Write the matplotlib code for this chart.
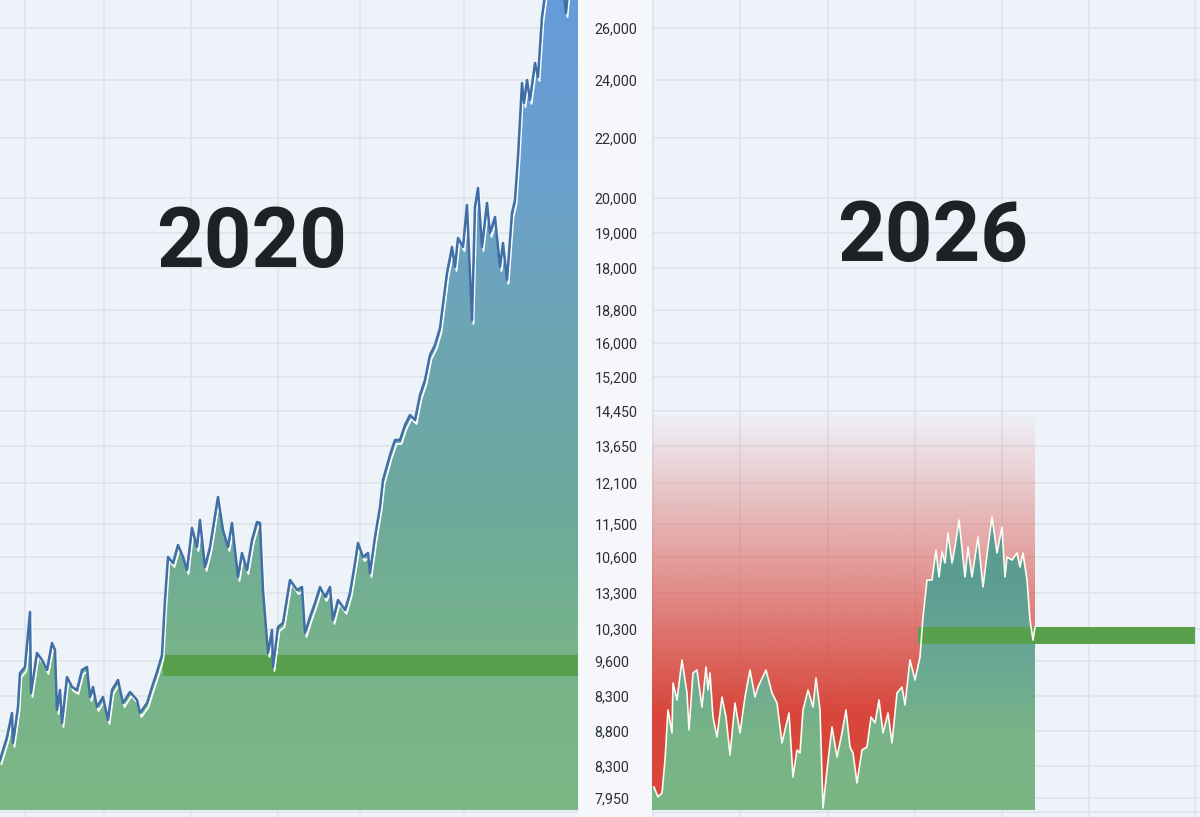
import numpy as np
import matplotlib
matplotlib.use('Agg')
import matplotlib.pyplot as plt
from matplotlib.colors import LinearSegmentedColormap, to_rgb

# price levels (chart units, 0 = baseline) for the 2020 run
DAYS_2020 = [0, 7, 12, 13, 18, 20, 25, 30, 31, 37, 42, 47, 52, 55, 57, 60, 62, 67, 72, 77,
             82, 87, 90, 93, 97, 103, 108, 112, 118, 123, 130, 137, 140, 147, 152, 157, 162, 165, 168, 173,
             178, 183, 187, 192, 197, 200, 205, 210, 218, 223, 228, 232, 238, 242, 247, 252, 257, 260, 263, 268,
             272, 273, 278, 283, 290, 297, 302, 305, 310, 315, 320, 325, 330, 333, 338, 345, 350, 355, 358, 363,
             368, 370, 375, 380, 383, 390, 395, 400, 405, 410, 415, 420, 425, 430, 435, 440, 447, 452, 455, 458,
             463, 467, 472, 475, 478, 482, 487, 490, 495, 500, 503, 507, 512, 515, 518, 522, 524, 527, 530, 535,
             538, 542, 545, 550, 560, 566, 570, 578]
LEVEL_2020 = [50, 73, 97, 67, 103, 137, 143, 198, 117, 157, 150, 140, 167, 160, 100, 120, 87, 133, 123, 120,
              140, 143, 113, 123, 103, 113, 90, 120, 130, 107, 118, 110, 97, 107, 123, 138, 155, 210, 253, 247,
              265, 253, 240, 282, 263, 290, 243, 263, 313, 280, 263, 287, 233, 257, 240, 270, 288, 287, 220, 157,
              180, 143, 183, 187, 230, 220, 223, 177, 193, 207, 223, 213, 223, 190, 210, 200, 217, 247, 267, 253,
              257, 237, 273, 303, 330, 355, 370, 370, 385, 395, 390, 415, 430, 455, 465, 482, 537, 563, 543, 572,
              563, 605, 490, 603, 622, 563, 607, 577, 593, 543, 567, 530, 597, 610, 653, 727, 707, 730, 710, 747,
              733, 793, 815, 840, 850, 797, 840, 850]

# 2026 run
DAYS_2026 = [2, 6, 10, 13, 16, 20, 21, 25, 30, 35, 37, 41, 45, 50, 54, 56, 58, 61, 65, 70,
             74, 78, 83, 88, 93, 98, 103, 106, 114, 120, 125, 130, 133, 137, 141, 145, 148, 151, 156, 161,
             164, 168, 171, 175, 180, 185, 190, 194, 198, 201, 205, 210, 215, 219, 223, 227, 231, 236, 240, 245,
             250, 253, 258, 263, 268, 271, 275, 280, 284, 287, 290, 293, 296, 300, 303, 307, 313, 316, 320, 326,
             331, 336, 340, 345, 350, 353, 355, 360, 365, 368, 371, 375, 378, 381, 383]
LEVEL_2026 = [23, 13, 17, 50, 100, 77, 127, 110, 150, 117, 80, 137, 140, 103, 143, 120, 137, 93, 73, 113,
              93, 55, 107, 77, 113, 140, 113, 123, 140, 117, 107, 67, 80, 97, 33, 60, 57, 100, 120, 103,
              132, 100, 2, 40, 83, 53, 77, 100, 63, 57, 27, 60, 63, 93, 87, 110, 77, 97, 67, 117,
              123, 105, 150, 130, 153, 193, 230, 230, 260, 233, 258, 247, 277, 247, 263, 290, 233, 263, 233, 273,
              223, 263, 293, 257, 283, 233, 253, 250, 257, 243, 257, 230, 190, 170, 183]

TICK_LEVELS = [782, 730, 672, 612, 577, 542, 500, 467, 433, 399, 364, 327, 286, 253, 217, 181, 149, 114, 79, 44, 12]
TICK_LABELS = ['26,000', '24,000', '22,000', '20,000', '19,000', '18,000', '18,800', '16,000', '15,200',
               '14,450', '13,650', '12,100', '11,500', '10,600', '13,300', '10,300', '9,600', '8,300',
               '8,800', '8,300', '7,950']

SUPPORT_2020 = (163, 578, 134, 155)   # x0, x1, y0, y1
SUPPORT_2026 = (266, 543, 166, 183)

BG = '#eef2f9'
GRID = '#dfe3ea'
BAND = '#58a04c'


def gradient_fill(ax, x, y, xmax, stops, top):
    poly = ax.fill_between(x, y, 0, facecolor='none', edgecolor='none')
    cmap = LinearSegmentedColormap.from_list('g', stops)
    grad = np.linspace(0, 1, 256).reshape(-1, 1)
    im = ax.imshow(grad, extent=[x[0], x[-1], 0, top], origin='lower', cmap=cmap,
                   aspect='auto', zorder=2)
    im.set_clip_path(poly.get_paths()[0], transform=ax.transData)
    ax.set_xlim(0, xmax)


def setup(ax, xmax, vgrid):
    ax.set_facecolor(BG)
    ax.set_xlim(0, xmax)
    ax.set_ylim(-7, 810)
    for s in ax.spines.values():
        s.set_visible(False)
    ax.set_xticks([])
    ax.set_yticks(TICK_LEVELS)
    ax.tick_params(axis='y', length=0)
    for lv in TICK_LEVELS:
        ax.axhline(lv, color=GRID, lw=1.2, zorder=0)
    ax.axhline(-2, color=GRID, lw=1.2, zorder=0)
    for v in vgrid:
        ax.axvline(v, color=GRID, lw=1.2, zorder=0)


fig = plt.figure(figsize=(12, 8.17), dpi=100)
fig.patch.set_facecolor('#f5f7fb')

ax1 = fig.add_axes([0, 0, 578 / 1200, 1])
setup(ax1, 578, [25, 104, 191, 278, 360, 464])
ax1.yaxis.tick_right()
ax1.set_yticklabels(TICK_LABELS, fontsize=10.3, color='#2b2e33', family='Roboto', ha='left')
ax1.tick_params(axis='y', pad=12)

x1 = np.array(DAYS_2020, float)
y1 = np.array(LEVEL_2020, float)
gradient_fill(ax1, x1, y1, 578,
              ['#7bb784', '#76b38a', '#6ca89f', '#6da6b6', '#6aa0cf', '#659bd9'], 810)
ax1.fill_between([SUPPORT_2020[0], SUPPORT_2020[1]], SUPPORT_2020[2], SUPPORT_2020[3],
                 color=BAND, zorder=4, lw=0)
ax1.plot(x1 + 1.5, y1 - 4, color='white', lw=1.3, zorder=5)
ax1.plot(x1, y1, color='#3f6fa6', lw=1.8, zorder=6)
ax1.set_xlim(0, 578)
ax1.set_ylim(-7, 810)

ax2 = fig.add_axes([652 / 1200, 0, 548 / 1200, 1])
setup(ax2, 548, [1, 88, 176, 263, 350, 437, 543])
ax2.set_yticklabels([])

x2 = np.array(DAYS_2026, float)
y2 = np.array(LEVEL_2026, float)
# red zone behind the 2026 run
red = np.zeros((256, 1, 4))
red[..., :3] = to_rgb('#d8463b')
lv = np.linspace(0, 398, 256)
t = np.clip((398 - lv) / 300, 0, 1)
red[:, 0, 3] = t ** 1.0
ax2.imshow(red, extent=[0, 383, 0, 398], origin='lower', aspect='auto', zorder=1)
gradient_fill(ax2, np.concatenate([[0], x2]), np.concatenate([[y2[0]], y2]), 548,
              ['#7ab683', '#78b486', '#6aa895', '#5d9e92', '#5b9c92'], 300)
ax2.fill_between([SUPPORT_2026[0], SUPPORT_2026[1]], SUPPORT_2026[2], SUPPORT_2026[3],
                 color=BAND, zorder=4, lw=0)
ax2.plot(x2, y2, color='#fbfbf5', lw=1.2, zorder=5)
ax2.set_xlim(0, 548)
ax2.set_ylim(-7, 810)

fig.text(252 / 1200, 1 - 245 / 817, '2020', ha='center', va='center', fontsize=60,
         fontweight='bold', family='Roboto', color='#1e2227')
fig.text(933 / 1200, 1 - 238 / 817, '2026', ha='center', va='center', fontsize=60,
         fontweight='bold', family='Roboto', color='#1e2227')

fig.savefig('out.png', dpi=100, facecolor=fig.get_facecolor())
